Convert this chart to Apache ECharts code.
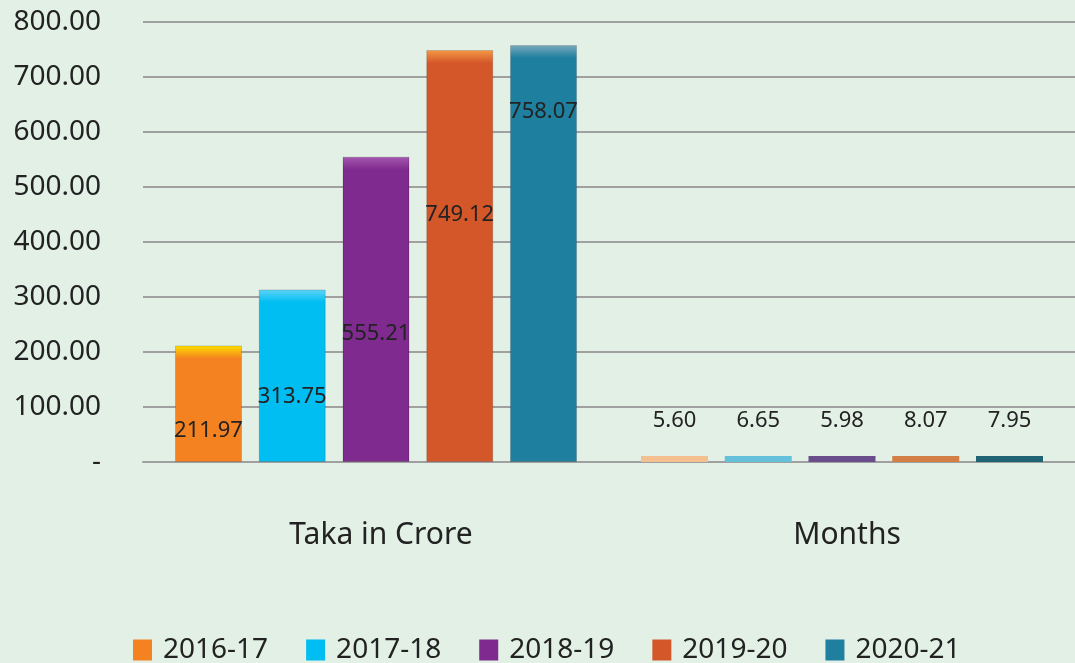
<!DOCTYPE html>
<html>
<head>
<meta charset="utf-8">
<script src="https://cdn.jsdelivr.net/npm/echarts@6/dist/echarts.min.js"></script>
<style>
  html, body { margin: 0; padding: 0; background: #e2f0e6; }
  #chart { width: 1075px; height: 663px; }
</style>
</head>
<body>
<div id="chart"></div>
<script>
// categories on the x axis
var categories = ['Taka in Crore', 'Months'];
// fiscal years (legend)
var years = ['2016-17', '2017-18', '2018-19', '2019-20', '2020-21'];
// values per year: [taka in crore, months]
var taka = [211.97, 313.75, 555.21, 749.12, 758.07];
var months = [5.60, 6.65, 5.98, 8.07, 7.95];
// y axis ticks
var yMax = 800;
var yStep = 100;

// colours: main bars, their lighter top cap, and the month bars
var mainColors = ['#f58220', '#00bdf2', '#7f2a8e', '#d4572a', '#1e7f9e'];
var capColors = ['#ffe000', '#5fd4f6', '#a458b0', '#f39a45', '#7aa9bd'];
var monthColors = ['#f4c08f', '#65c0dc', '#6a4e8c', '#d47f45', '#206372'];
// where the value label sits inside each taka bar (% from top)
var labelY = ['73%', '62%', '58%', '40%', '16%'];

var chart = echarts.init(document.getElementById('chart'));

// plot is 440px tall for 800 units
var pxPerUnit = 440 / yMax;

var series = years.map(function (y, i) {
    var capFrac = Math.min(0.5, 13 / (taka[i] * pxPerUnit));
    return {
        name: y,
        type: 'bar',
        barWidth: 67,
        barGap: '25%',
        barMinHeight: 6,
        itemStyle: { color: mainColors[i] },
        data: [
            {
                value: taka[i],
                itemStyle: {
                    color: new echarts.graphic.LinearGradient(0, 0, 0, 1, [
                        { offset: 0, color: capColors[i] },
                        { offset: capFrac, color: mainColors[i] },
                        { offset: 1, color: mainColors[i] }
                    ]),
                    borderColor: 'rgba(0,0,0,0.15)',
                    borderWidth: 1
                },
                label: {
                    show: true,
                    position: ['50%', labelY[i]],
                    align: 'center',
                    verticalAlign: 'middle',
                    formatter: function (p) { return p.value.toFixed(2); },
                    fontSize: 22,
                    color: '#222',
                    fontFamily: 'Noto Sans'
                }
            },
            {
                value: months[i],
                itemStyle: { color: monthColors[i] },
                label: {
                    show: true,
                    position: 'top',
                    distance: 24,
                    formatter: function (p) { return p.value.toFixed(2); },
                    fontSize: 22,
                    color: '#222',
                    fontFamily: 'Noto Sans'
                }
            }
        ]
    };
});

chart.setOption({
    backgroundColor: '#e2f0e6',
    animation: false,
    grid: { left: 143, right: 0, top: 22, bottom: 201 },
    legend: {
        data: years,
        left: 128,
        top: 631,
        itemWidth: 19,
        itemHeight: 21,
        itemGap: 38,
        icon: 'rect',
        textStyle: {
            fontSize: 28,
            color: '#222',
            fontFamily: 'Noto Sans',
            padding: [0, 0, 0, 6]
        }
    },
    xAxis: {
        type: 'category',
        data: categories,
        axisLine: { lineStyle: { color: '#a0a0a0', width: 2 } },
        axisTick: { show: false },
        axisLabel: {
            margin: 58,
            fontSize: 30,
            color: '#222',
            fontFamily: 'Noto Sans',
            padding: [0, 0, 0, 10]
        }
    },
    yAxis: {
        type: 'value',
        min: 0,
        max: yMax,
        interval: yStep,
        axisLine: { show: false },
        axisTick: { show: false },
        splitLine: { lineStyle: { color: '#a0a0a0', width: 2 } },
        axisLabel: {
            margin: 42,
            fontSize: 28,
            color: '#222',
            fontFamily: 'Noto Sans',
            formatter: function (v) { return v === 0 ? '-' : v.toFixed(2); }
        }
    },
    series: series
});
</script>
</body>
</html>
